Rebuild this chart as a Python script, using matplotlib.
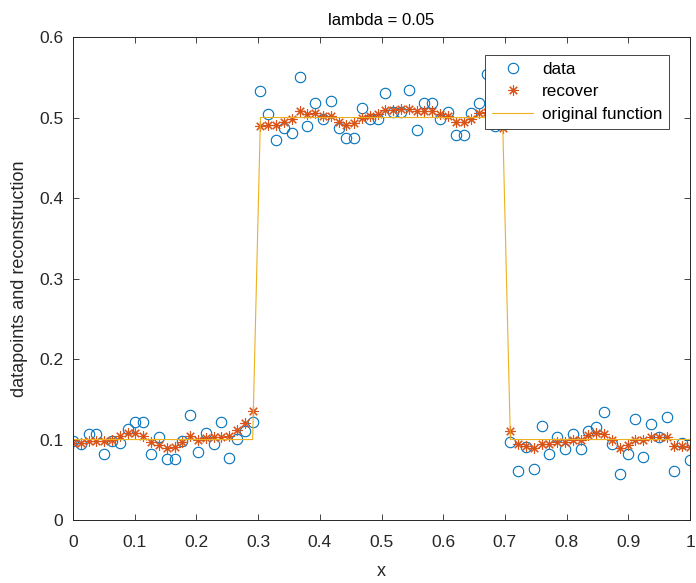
import numpy as np
import matplotlib.pyplot as plt

plt.rcParams["font.family"] = ["Liberation Sans", "DejaVu Sans"]

# 80 sample points on [0, 1]
x = np.linspace(0, 1, 80)

data = [
    0.098, 0.094, 0.107, 0.107, 0.082, 0.098, 0.096, 0.113, 0.122, 0.122,
    0.082, 0.103, 0.076, 0.076, 0.098, 0.131, 0.084, 0.108, 0.095, 0.122,
    0.077, 0.101, 0.111, 0.122,
    0.533, 0.504, 0.472, 0.487, 0.481, 0.550, 0.489, 0.518, 0.498, 0.520,
    0.487, 0.474, 0.474, 0.512, 0.498, 0.498, 0.531, 0.507, 0.507, 0.534,
    0.485, 0.518, 0.518, 0.498, 0.507, 0.478, 0.478, 0.506, 0.518, 0.554,
    0.489, 0.495,
    0.097, 0.061, 0.091, 0.063, 0.117, 0.082, 0.103, 0.088, 0.107, 0.088,
    0.111, 0.116, 0.134, 0.095, 0.057, 0.082, 0.126, 0.078, 0.119, 0.103,
    0.128, 0.061, 0.096, 0.075,
]

recover = [
    0.096, 0.096, 0.098, 0.098, 0.098, 0.100, 0.104, 0.108, 0.108, 0.105,
    0.097, 0.093, 0.090, 0.091, 0.097, 0.104, 0.100, 0.102, 0.103, 0.103,
    0.105, 0.112, 0.120, 0.135,
    0.489, 0.491, 0.491, 0.494, 0.498, 0.508, 0.504, 0.506, 0.502, 0.502,
    0.495, 0.491, 0.493, 0.500, 0.502, 0.504, 0.509, 0.509, 0.510, 0.511,
    0.508, 0.508, 0.508, 0.504, 0.502, 0.494, 0.494, 0.498, 0.505, 0.507,
    0.505, 0.487,
    0.110, 0.095, 0.092, 0.089, 0.095, 0.095, 0.097, 0.097, 0.100, 0.100,
    0.106, 0.108, 0.107, 0.099, 0.089, 0.093, 0.100, 0.100, 0.103, 0.103,
    0.103, 0.092, 0.092, 0.091,
]

original = [0.1] * 24 + [0.5] * 32 + [0.1] * 24

fig = plt.figure(figsize=(6.96, 5.83), dpi=100)
ax = fig.add_axes([0.1049, 0.108, 0.8865, 0.8285])

ax.plot(x, data, linestyle="none", marker="o", markersize=7.5,
        markerfacecolor="none", markeredgecolor="#0072BD",
        markeredgewidth=0.8, label="data")
ax.plot(x, recover, linestyle="none", marker=(8, 2, 0), markersize=7.5,
        color="#D95319", markeredgewidth=0.8, label="recover")
ax.plot(x, original, color="#EDB120", linewidth=0.8, label="original function")

ax.set_xlim(0, 1)
ax.set_ylim(0, 0.6)
ax.set_xticks(np.arange(0, 1.01, 0.1))
ax.set_xticklabels(["0", "0.1", "0.2", "0.3", "0.4", "0.5", "0.6", "0.7", "0.8", "0.9", "1"])
ax.set_yticks(np.arange(0, 0.61, 0.1))
ax.set_yticklabels(["0", "0.1", "0.2", "0.3", "0.4", "0.5", "0.6"])
ax.tick_params(direction="in", top=True, right=True, labelsize=12.5,
               colors="#262626", length=4, width=0.6)
ax.tick_params(axis="x", pad=11)
ax.tick_params(axis="y", pad=7)
for s in ax.spines.values():
    s.set_color("#262626")
    s.set_linewidth(0.7)

ax.set_title("lambda = 0.05", fontsize=12, color="#000000", pad=9)
ax.set_xlabel("x", fontsize=13, color="#262626", labelpad=9)
ax.set_ylabel("datapoints and reconstruction", fontsize=13, color="#262626", labelpad=8)

leg = ax.legend(loc="upper right", bbox_to_anchor=(0.966, 0.963), borderaxespad=0,
                fancybox=False, edgecolor="#262626", framealpha=1, fontsize=12.3,
                handlelength=2.4, handletextpad=0.5, borderpad=0.4, labelspacing=0.45)
leg.get_frame().set_linewidth(0.6)

fig.savefig("out.png", dpi=100)
